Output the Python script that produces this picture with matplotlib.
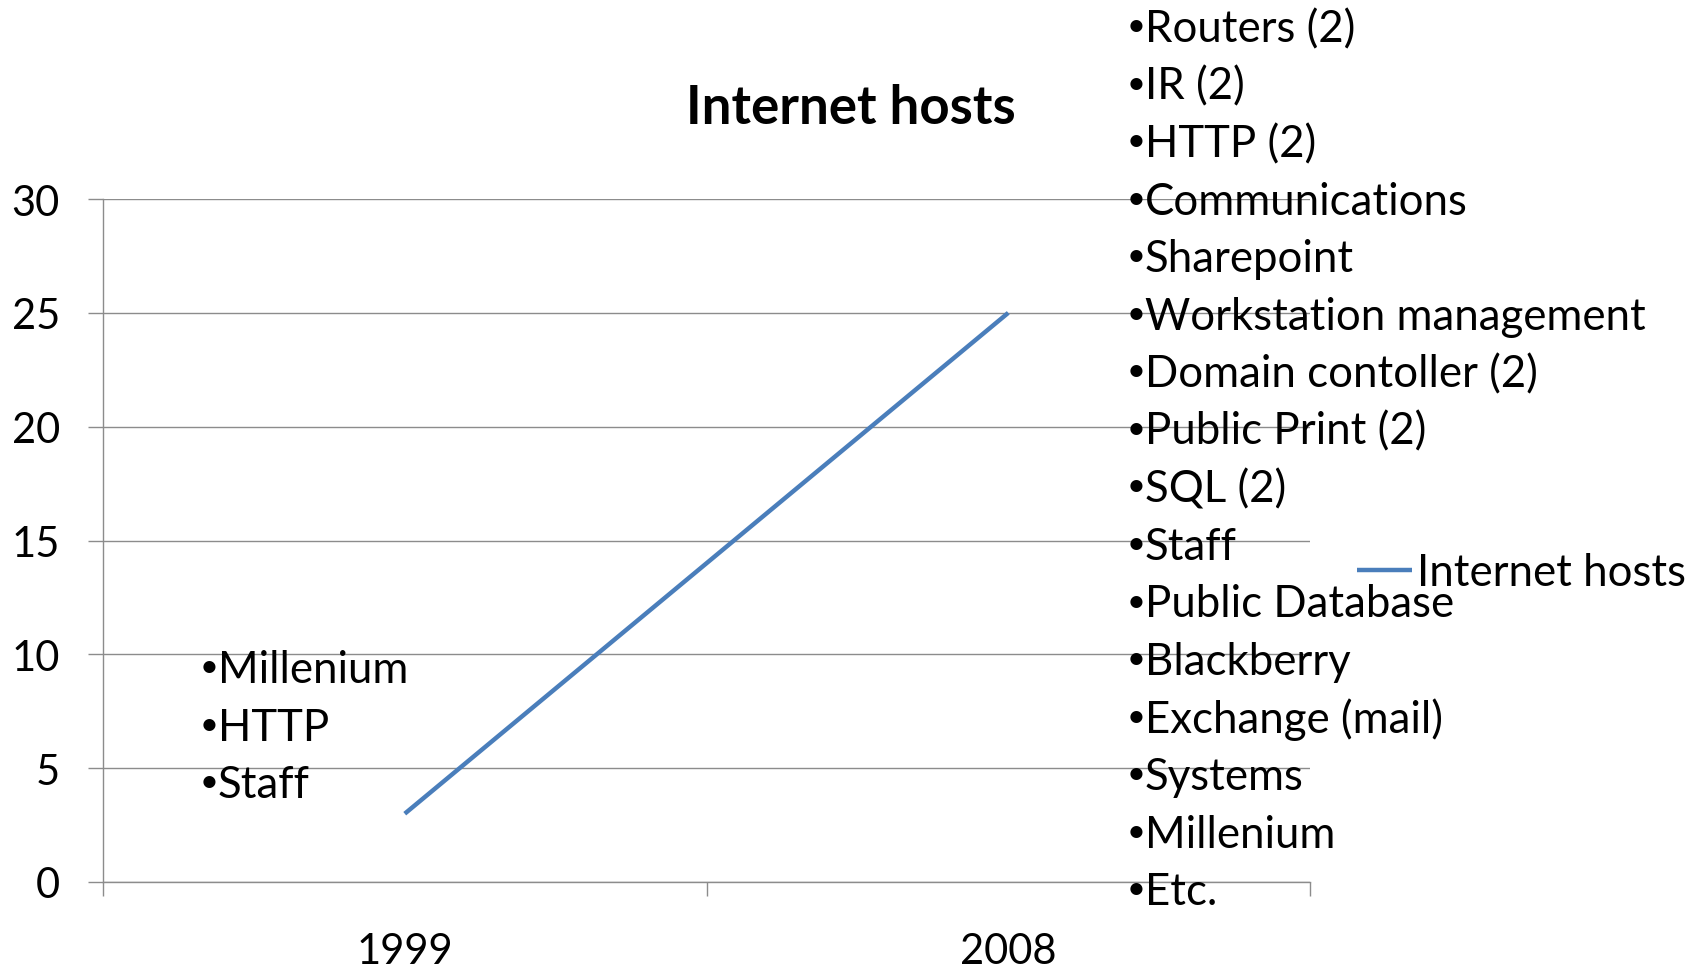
#!/usr/bin/env python3
"""Internet hosts line chart, 1999 vs 2008, with host lists."""

import matplotlib
matplotlib.use('Agg')
import matplotlib.pyplot as plt

plt.rcParams['font.family'] = ['Lato', 'DejaVu Sans']

years = ['1999', '2008']
hosts = [3, 25]
y_ticks = [0, 5, 10, 15, 20, 25, 30]

hosts_1999 = ['Millenium', 'HTTP', 'Staff']
hosts_2008 = ['Routers (2)', 'IR (2)', 'HTTP (2)', 'Communications', 'Sharepoint',
              'Workstation management', 'Domain contoller (2)', 'Public Print (2)',
              'SQL (2)', 'Staff', 'Public Database', 'Blackberry', 'Exchange (mail)',
              'Systems', 'Millenium', 'Etc.']

W, H = 1698, 979
fig = plt.figure(figsize=(W / 100, H / 100), dpi=100)
ax = fig.add_axes([103 / W, 1 - 883 / H, (1310 - 103) / W, (883 - 200) / H])

grid_c = '#8c8c8c'
x = list(range(len(years)))
ax.plot(x, hosts, color='#4a7ebb', linewidth=3.2, label='Internet hosts',
        solid_capstyle='butt')

ax.set_xlim(-0.5, len(years) - 0.5)
ax.set_ylim(0, 30)
ax.set_yticks(y_ticks)
ax.set_xticks(x)
ax.set_xticklabels(years)
ax.set_xticks([i - 0.5 for i in range(len(years) + 1)], minor=True)

ax.yaxis.grid(True, color=grid_c, linewidth=1.0)
ax.set_axisbelow(True)
for s in ['top', 'right', 'bottom']:
    ax.spines[s].set_visible(False)
ax.spines['left'].set_color(grid_c)
ax.spines['left'].set_linewidth(1.0)

ax.tick_params(axis='y', length=11, width=1.0, color=grid_c, pad=20, labelsize=30)
ax.tick_params(axis='x', which='major', length=0, pad=36, labelsize=30)
ax.tick_params(axis='x', which='minor', length=10, width=1.0, color=grid_c)
ax.axhline(0, color=grid_c, linewidth=1.0, clip_on=False)

fig.text(851 / W, 1 - 108 / H, 'Internet hosts', ha='center', va='center',
         fontsize=38, fontweight='bold')


def bullet_list(items, xc_px, base_px, step=57.55):
    # bullet drawn a bit smaller than the item text, raised to mid x-height
    for i, name in enumerate(items):
        yb = base_px + i * step
        fig.text(xc_px / W, 1 - (yb - 6) / H, '\u2022', ha='center',
                 va='baseline', fontsize=23.5)
        fig.text((xc_px + 9) / W, 1 - yb / H, name, ha='left', va='baseline',
                 fontsize=31.5)


bullet_list(hosts_1999, 209, 683)
bullet_list(hosts_2008, 1136, 42)

ax.legend(loc='center left', bbox_to_anchor=(1357 / W, 1 - 574 / H),
          bbox_transform=fig.transFigure, frameon=False, fontsize=31.5,
          handlelength=1.25, handletextpad=0.12, borderpad=0, borderaxespad=0)

fig.savefig('out.png', dpi=100, facecolor='white')
